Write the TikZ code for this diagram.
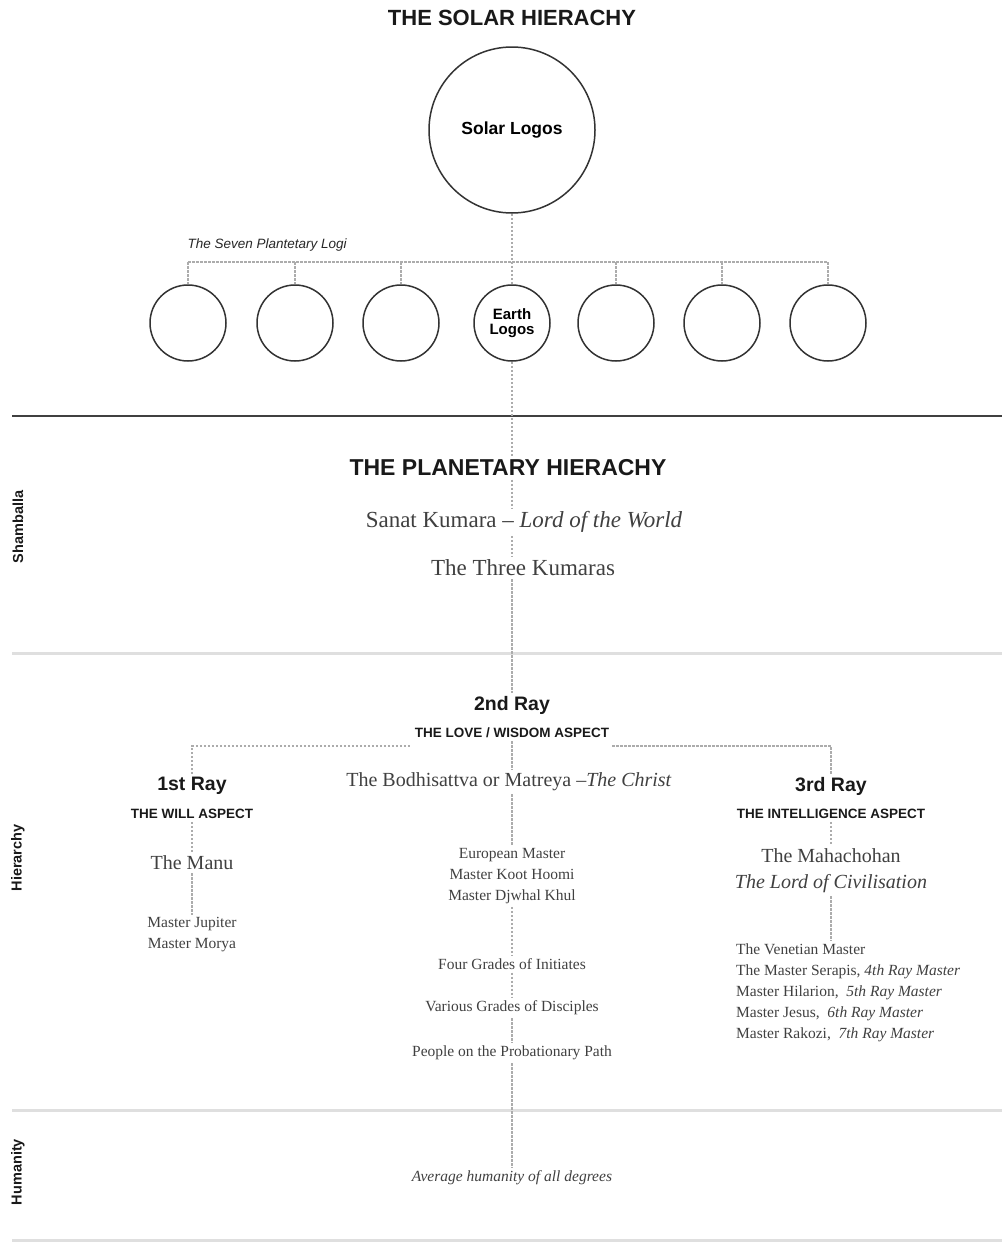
\documentclass[tikz,border=0pt]{standalone}
\usepackage{fontspec}
\setmainfont{Liberation Serif}
\setsansfont{Liberation Sans}

\tikzset{
  link/.style={draw=gray!65, line width=1.4pt, dash pattern=on 2.5pt off 1.5pt},
  logo/.style={circle, draw=black!80, line width=1.5pt, minimum size=76pt, inner sep=0pt, align=center, font=\sffamily\bfseries\fontsize{15}{15}\selectfont},
  head/.style={font=\sffamily\bfseries\fontsize{22}{26}\selectfont, text=black!90},
  ray/.style={font=\sffamily\bfseries\fontsize{19.5}{22}\selectfont, text=black!90, inner sep=3pt},
  subhead/.style={font=\sffamily\bfseries\fontsize{13.5}{16}\selectfont, text=black!90, inner sep=3pt},
  chief/.style={font=\fontsize{23}{28}\selectfont, text=black!75, inner sep=3pt},
  lead/.style={font=\fontsize{20}{26}\selectfont, text=black!75, align=center, inner sep=3pt},
  minor/.style={font=\fontsize{15.5}{21}\selectfont, text=black!75, align=center, inner sep=3pt},
  side/.style={font=\sffamily\bfseries\fontsize{14.5}{16}\selectfont, text=black!90, rotate=90},
  band/.style={draw=gray!25, line width=3pt},
}

\begin{document}
\begin{tikzpicture}[x=1pt, y=-1pt]
  \useasboundingbox (0,0) rectangle (1002,1242);

  % solar hierarchy
  \node[head] (st) at (512,18) {THE SOLAR HIERACHY};
  \node[logo, minimum size=166pt, font=\sffamily\bfseries\fontsize{17.5}{17}\selectfont] (sl) at (512,130) {Solar Logos};
  \node[anchor=west, font=\sffamily\itshape\fontsize{13.5}{16}\selectfont, text=black!85] (lg) at (184,245) {The Seven Plantetary Logi};
  \coordinate (bar) at (512,262);
  \node[logo] (p1) at (188,323) {};
  \node[logo] (p2) at (295,323) {};
  \node[logo] (p3) at (401,323) {};
  \node[logo] (p4) at (512,323) {Earth\\Logos};
  \node[logo] (p5) at (616,323) {};
  \node[logo] (p6) at (722,323) {};
  \node[logo] (p7) at (828,323) {};

  \draw[link] (sl) -- (p4);
  \draw[link] (p1.north |- bar) -- (p7.north |- bar);
  \draw[link] (p1.north |- bar) -- (p1.north);
  \draw[link] (p2.north |- bar) -- (p2.north);
  \draw[link] (p3.north |- bar) -- (p3.north);
  \draw[link] (p5.north |- bar) -- (p5.north);
  \draw[link] (p6.north |- bar) -- (p6.north);
  \draw[link] (p7.north |- bar) -- (p7.north);

  % section rules
  \draw[draw=black!75, line width=2pt] (12,416) -- (1002,416);
  \draw[band] (12,653) -- (1002,653);
  \draw[band] (12,1110) -- (1002,1110);
  \draw[band] (12,1240) -- (1002,1240);

  \node[side] (sh) at (18,527) {Shamballa};
  \node[side] (hy) at (18,858) {Hierarchy};
  \node[side] (hu) at (18,1172) {Humanity};

  % planetary hierarchy
  \node[head, font=\sffamily\bfseries\fontsize{23}{26}\selectfont] (ph) at (508,468) {THE PLANETARY HIERACHY};
  \node[chief] (sk) at (524,522) {Sanat Kumara -- \textit{Lord of the World}};
  \node[chief] (tk) at (523,568) {The Three Kumaras};

  % the three rays
  \node[ray] (r2) at (512,705) {2nd Ray};
  \node[subhead] (lw) at (512,733) {THE LOVE / WISDOM ASPECT};
  \coordinate (lb) at (512,746);
  \node[lead] (bd) at (509,782) {The Bodhisattva or Matreya --\textit{The Christ}};
  \node[minor] (em) at (512,876) {European Master\\Master Koot Hoomi\\Master Djwhal Khul};
  \node[minor] (fg) at (512,964) {Four Grades of Initiates};
  \node[minor] (vg) at (512,1008) {Various Grades of Disciples};
  \node[minor] (pp) at (512,1053) {People on the Probationary Path};
  \node[minor, font=\itshape\fontsize{15.5}{21}\selectfont] (av) at (512,1178) {Average humanity of all degrees};

  \node[ray] (r1) at (192,786) {1st Ray};
  \node[subhead] (wa) at (192,814) {THE WILL ASPECT};
  \node[lead] (mu) at (192,863) {The Manu};
  \node[minor] (mm) at (192,935) {Master Jupiter\\Master Morya};

  \node[ray] (r3) at (831,786) {3rd Ray};
  \node[subhead] (ia) at (831,814) {THE INTELLIGENCE ASPECT};
  \node[lead] (mc) at (831,871) {The Mahachohan\\\textit{The Lord of Civilisation}};
  \node[minor, align=left, anchor=west] (vm) at (733,993) {The Venetian Master\\
    The Master Serapis, \textit{4th Ray Master}\\
    Master Hilarion,\ \ \textit{5th Ray Master}\\
    Master Jesus,\ \ \textit{6th Ray Master}\\
    Master Rakozi,\ \ \textit{7th Ray Master}};

  % the central line
  \draw[link] (p4) -- (p4 |- ph.north);
  \draw[link] (p4 |- ph.south) -- (p4 |- sk.north);
  \draw[link] (p4 |- sk.south) -- (p4 |- tk.north);
  \draw[link] (p4 |- tk.south) -- (p4 |- r2.north);
  \draw[link] (p4 |- lw.south) -- (p4 |- bd.north);
  \draw[link] (p4 |- bd.south) -- (p4 |- em.north);
  \draw[link] (p4 |- em.south) -- (p4 |- fg.north);
  \draw[link] (p4 |- fg.south) -- (p4 |- vg.north);
  \draw[link] (p4 |- vg.south) -- (p4 |- pp.north);
  \draw[link] (p4 |- pp.south) -- (p4 |- av.north);

  \draw[link] (r1.north) |- (lw.west |- lb);
  \draw[link] (r3.north) |- (lw.east |- lb);
  \draw[link] (wa) -- (mu);
  \draw[link] (mu) -- (mm);
  \draw[link] (ia) -- (mc);
  \draw[link] (mc.south) -- (mc.south |- vm.north);

\end{tikzpicture}
\end{document}
